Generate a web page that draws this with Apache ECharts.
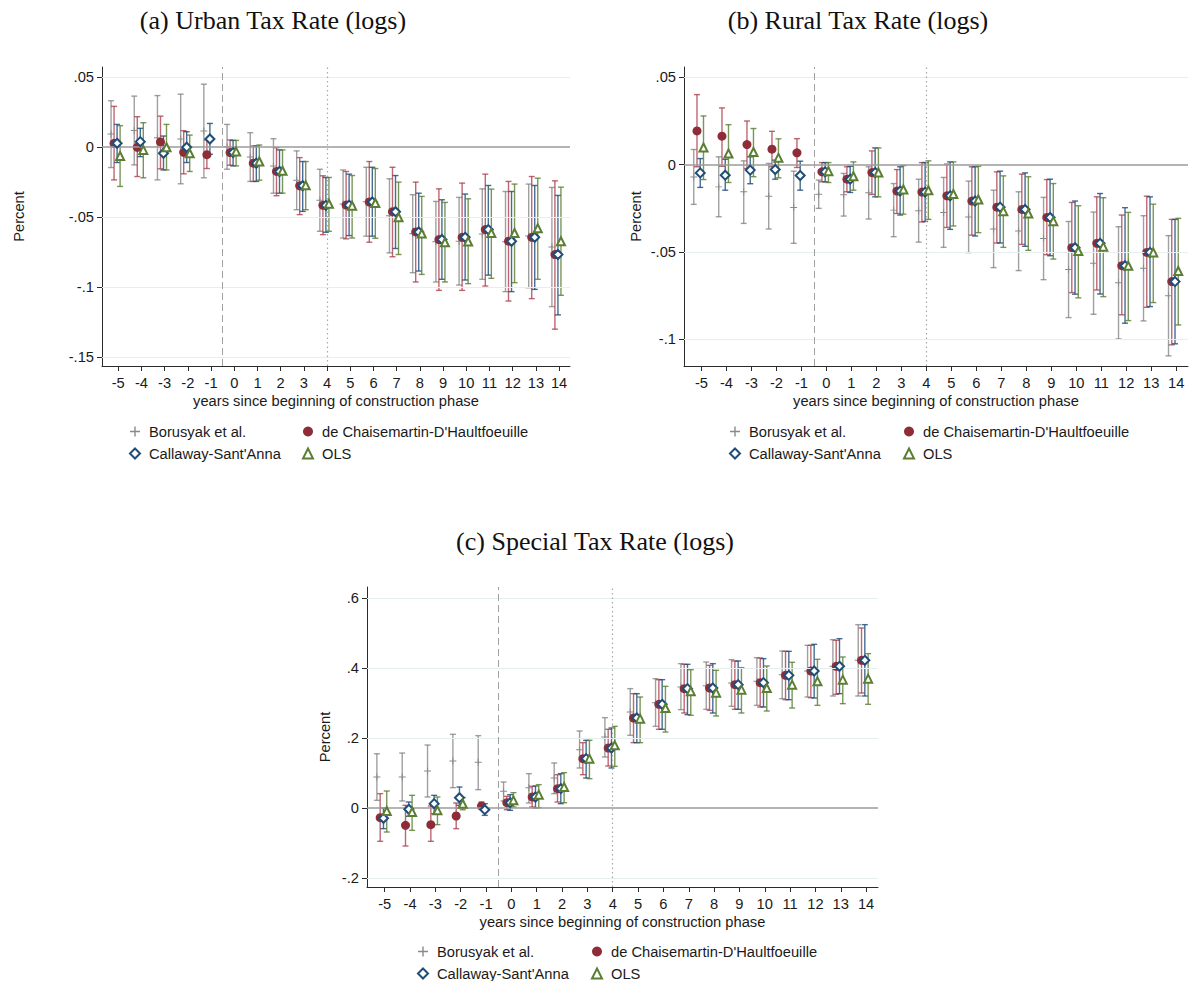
<!DOCTYPE html>
<html>
<head>
<meta charset="utf-8">
<script src="https://cdn.jsdelivr.net/npm/echarts@6/dist/echarts.min.js"></script>
<style>
  html, body { margin: 0; padding: 0; background: #ffffff; }
  #chart { width: 1191px; height: 981px; }
</style>
</head>
<body>
<div id="chart"></div>
<script>
// Event time relative to the start of the construction phase
const eventTimes = [-5, -4, -3, -2, -1, 0, 1, 2, 3, 4, 5, 6, 7, 8, 9, 10, 11, 12, 13, 14];

// Each entry: [estimate, lower CI, upper CI]; null where the estimator has no coefficient
const urbanBorusyak = [
  [0.0092, -0.0147, 0.0330], [0.0118, -0.0128, 0.0363], [0.0066, -0.0235, 0.0367], [0.0057, -0.0263, 0.0377],
  [0.0114, -0.0220, 0.0448], [0.0001, -0.0159, 0.0161], [-0.0072, -0.0246, 0.0102], [-0.0136, -0.0330, 0.0059],
  [-0.0238, -0.0448, -0.0028], [-0.0380, -0.0602, -0.0159], [-0.0407, -0.0650, -0.0164], [-0.0391, -0.0637, -0.0145],
  [-0.0491, -0.0756, -0.0227], [-0.0620, -0.0898, -0.0341], [-0.0676, -0.0964, -0.0389], [-0.0673, -0.0986, -0.0360],
  [-0.0622, -0.0945, -0.0299], [-0.0676, -0.1033, -0.0318], [-0.0635, -0.1005, -0.0265], [-0.0715, -0.1140, -0.0289]
];
const urbanDCDH = [
  [0.0026, -0.0235, 0.0290], [-0.0002, -0.0211, 0.0216], [0.0036, -0.0156, 0.0220], [-0.0038, -0.0192, 0.0116],
  [-0.0055, -0.0154, 0.0050], [-0.0040, -0.0130, 0.0050], [-0.0116, -0.0246, 0.0007], [-0.0175, -0.0348, -0.0005],
  [-0.0277, -0.0483, -0.0076], [-0.0417, -0.0626, -0.0206], [-0.0415, -0.0656, -0.0175], [-0.0393, -0.0680, -0.0104],
  [-0.0462, -0.0784, -0.0145], [-0.0607, -0.0964, -0.0251], [-0.0661, -0.1024, -0.0299], [-0.0645, -0.1024, -0.0258],
  [-0.0590, -0.0993, -0.0194], [-0.0673, -0.1100, -0.0246], [-0.0645, -0.1083, -0.0211], [-0.0768, -0.1301, -0.0242]
];
const urbanCS = [
  [0.0026, -0.0111, 0.0161], [0.0038, -0.0069, 0.0133], [-0.0045, -0.0164, 0.0078], [-0.0002, -0.0111, 0.0109],
  [0.0057, -0.0052, 0.0168], [-0.0040, -0.0135, 0.0047], [-0.0116, -0.0246, 0.0007], [-0.0175, -0.0330, -0.0021],
  [-0.0277, -0.0460, -0.0104], [-0.0417, -0.0609, -0.0218], [-0.0415, -0.0633, -0.0194], [-0.0393, -0.0637, -0.0145],
  [-0.0462, -0.0725, -0.0204], [-0.0607, -0.0886, -0.0330], [-0.0661, -0.0945, -0.0377], [-0.0645, -0.0950, -0.0336],
  [-0.0590, -0.0915, -0.0275], [-0.0673, -0.1033, -0.0318], [-0.0645, -0.1017, -0.0275], [-0.0768, -0.1199, -0.0346]
];
const urbanOLS = [
  [-0.0064, -0.0282, 0.0152], [-0.0021, -0.0220, 0.0173], [-0.0002, -0.0164, 0.0161], [-0.0045, -0.0175, 0.0085],
  null, [-0.0033, -0.0135, 0.0047], [-0.0104, -0.0237, 0.0014], [-0.0170, -0.0330, -0.0021],
  [-0.0273, -0.0448, -0.0104], [-0.0405, -0.0602, -0.0218], [-0.0420, -0.0650, -0.0204], [-0.0400, -0.0652, -0.0154],
  [-0.0502, -0.0768, -0.0251], [-0.0618, -0.0910, -0.0353], [-0.0680, -0.0964, -0.0396], [-0.0675, -0.0976, -0.0370],
  [-0.0614, -0.0938, -0.0301], [-0.0614, -0.0969, -0.0265], [-0.0580, -0.0945, -0.0223], [-0.0673, -0.1059, -0.0287]
];

const ruralBorusyak = [
  [-0.0071, -0.0228, 0.0086], [-0.0128, -0.0299, 0.0044], [-0.0156, -0.0337, 0.0021], [-0.0181, -0.0369, 0.0006],
  [-0.0246, -0.0451, -0.0038], [-0.0170, -0.0251, -0.0089], [-0.0173, -0.0295, -0.0051], [-0.0162, -0.0312, -0.0013],
  [-0.0261, -0.0413, -0.0109], [-0.0264, -0.0444, -0.0084], [-0.0274, -0.0474, -0.0074], [-0.0300, -0.0504, -0.0095],
  [-0.0369, -0.0590, -0.0147], [-0.0381, -0.0607, -0.0156], [-0.0424, -0.0659, -0.0188], [-0.0601, -0.0876, -0.0326],
  [-0.0565, -0.0857, -0.0272], [-0.0677, -0.0998, -0.0356], [-0.0594, -0.0895, -0.0293], [-0.0751, -0.1095, -0.0407]
];
const ruralDCDH = [
  [0.0192, -0.0013, 0.0400], [0.0162, -0.0010, 0.0324], [0.0114, -0.0023, 0.0249], [0.0088, -0.0013, 0.0190],
  [0.0067, -0.0017, 0.0148], [-0.0042, -0.0099, 0.0011], [-0.0084, -0.0156, -0.0013], [-0.0046, -0.0171, 0.0078],
  [-0.0152, -0.0280, -0.0029], [-0.0158, -0.0329, 0.0011], [-0.0179, -0.0360, 0.0002], [-0.0209, -0.0404, -0.0013],
  [-0.0244, -0.0449, -0.0042], [-0.0257, -0.0457, -0.0055], [-0.0303, -0.0516, -0.0086], [-0.0476, -0.0733, -0.0217],
  [-0.0451, -0.0718, -0.0185], [-0.0579, -0.0860, -0.0289], [-0.0503, -0.0817, -0.0181], [-0.0670, -0.1032, -0.0314]
];
const ruralCS = [
  [-0.0048, -0.0131, 0.0034], [-0.0061, -0.0147, 0.0030], [-0.0032, -0.0110, 0.0044], [-0.0029, -0.0084, 0.0025],
  [-0.0063, -0.0147, 0.0019], [-0.0042, -0.0099, 0.0011], [-0.0084, -0.0160, -0.0010], [-0.0046, -0.0185, 0.0095],
  [-0.0152, -0.0289, -0.0013], [-0.0158, -0.0326, 0.0011], [-0.0179, -0.0371, 0.0015], [-0.0209, -0.0409, -0.0013],
  [-0.0244, -0.0449, -0.0038], [-0.0257, -0.0468, -0.0048], [-0.0303, -0.0522, -0.0084], [-0.0476, -0.0742, -0.0209],
  [-0.0451, -0.0741, -0.0166], [-0.0579, -0.0908, -0.0247], [-0.0503, -0.0813, -0.0185], [-0.0670, -0.1026, -0.0314]
];
const ruralOLS = [
  [0.0097, -0.0086, 0.0278], [0.0063, -0.0103, 0.0228], [0.0072, -0.0070, 0.0206], [0.0038, -0.0076, 0.0147],
  null, [-0.0038, -0.0103, 0.0011], [-0.0067, -0.0147, 0.0015], [-0.0046, -0.0185, 0.0095],
  [-0.0143, -0.0284, -0.0006], [-0.0147, -0.0314, 0.0021], [-0.0169, -0.0352, 0.0015], [-0.0200, -0.0390, -0.0010],
  [-0.0267, -0.0474, -0.0065], [-0.0280, -0.0491, -0.0070], [-0.0324, -0.0541, -0.0109], [-0.0495, -0.0763, -0.0236],
  [-0.0470, -0.0756, -0.0190], [-0.0579, -0.0893, -0.0274], [-0.0503, -0.0790, -0.0227], [-0.0609, -0.0918, -0.0308]
];

const specialBorusyak = [
  [0.0886, 0.0219, 0.1550], [0.0886, 0.0200, 0.1570], [0.1057, 0.0314, 0.1800], [0.1343, 0.0581, 0.2105],
  [0.1305, 0.0524, 0.2067], [0.0476, 0.0200, 0.0743], [0.0581, 0.0143, 0.0981], [0.0857, 0.0410, 0.1286],
  [0.1667, 0.1143, 0.2200], [0.2029, 0.1457, 0.2581], [0.2743, 0.2076, 0.3410], [0.3010, 0.2333, 0.3695],
  [0.3457, 0.2810, 0.4124], [0.3495, 0.2819, 0.4171], [0.3571, 0.2905, 0.4238], [0.3619, 0.2933, 0.4295],
  [0.3810, 0.3124, 0.4486], [0.3914, 0.3171, 0.4648], [0.4048, 0.3200, 0.4810], [0.4219, 0.3200, 0.5238]
];
const specialDCDH = [
  [-0.0276, -0.0952, 0.0410], [-0.0495, -0.1086, 0.0076], [-0.0476, -0.0952, 0.0057], [-0.0229, -0.0590, 0.0143],
  [0.0057, -0.0038, 0.0171], [0.0152, -0.0048, 0.0333], [0.0314, 0.0029, 0.0619], [0.0552, 0.0171, 0.0952],
  [0.1410, 0.0952, 0.1867], [0.1714, 0.1200, 0.2248], [0.2571, 0.1867, 0.3267], [0.2962, 0.2248, 0.3667],
  [0.3410, 0.2714, 0.4105], [0.3429, 0.2790, 0.4076], [0.3524, 0.2819, 0.4200], [0.3581, 0.2886, 0.4286],
  [0.3790, 0.3095, 0.4476], [0.3914, 0.3152, 0.4648], [0.4048, 0.3248, 0.4790], [0.4219, 0.3286, 0.5143]
];
const specialCS = [
  [-0.0295, -0.0590, 0.0000], [-0.0038, -0.0238, 0.0171], [0.0124, -0.0162, 0.0362], [0.0295, 0.0076, 0.0600],
  [-0.0048, -0.0210, 0.0124], [0.0152, -0.0067, 0.0381], [0.0314, 0.0000, 0.0629], [0.0552, 0.0124, 0.0981],
  [0.1410, 0.0857, 0.1933], [0.1714, 0.1143, 0.2286], [0.2571, 0.1867, 0.3267], [0.2962, 0.2248, 0.3667],
  [0.3410, 0.2667, 0.4105], [0.3429, 0.2714, 0.4124], [0.3524, 0.2819, 0.4200], [0.3581, 0.2886, 0.4267],
  [0.3790, 0.3095, 0.4476], [0.3914, 0.3143, 0.4676], [0.4048, 0.3267, 0.4838], [0.4219, 0.3200, 0.5238]
];
const specialOLS = [
  [-0.0086, -0.0686, 0.0486], [-0.0114, -0.0638, 0.0362], [-0.0067, -0.0476, 0.0314], [0.0120, -0.0050, 0.0300],
  null, [0.0219, 0.0029, 0.0438], [0.0381, 0.0010, 0.0667], [0.0600, 0.0152, 0.1010],
  [0.1410, 0.0838, 0.1933], [0.1790, 0.1190, 0.2333], [0.2552, 0.1867, 0.3171], [0.2857, 0.2171, 0.3476],
  [0.3333, 0.2648, 0.3952], [0.3295, 0.2629, 0.3933], [0.3381, 0.2714, 0.4010], [0.3429, 0.2771, 0.4057],
  [0.3524, 0.2857, 0.4162], [0.3619, 0.2933, 0.4248], [0.3667, 0.2981, 0.4314], [0.3695, 0.2962, 0.4410]
];

// Labelled y ticks of each panel
const urbanTicks = [-0.15, -0.1, -0.05, 0, 0.05];
const ruralTicks = [-0.1, -0.05, 0, 0.05];
const specialTicks = [-0.2, 0, 0.2, 0.4, 0.6];

// Reference lines: last pre-period boundary and end of construction
const treatmentBoundary = -0.5;
const constructionEnd = 4;

const estimatorNames = ['Borusyak et al.', "de Chaisemartin-D'Haultfoeuille", "Callaway-Sant'Anna", 'OLS'];
const panelTitles = ['(a) Urban Tax Rate (logs)', '(b) Rural Tax Rate (logs)', '(c) Special Tax Rate (logs)'];
const xTitle = 'years since beginning of construction phase';
const yTitle = 'Percent';

// ---------- styling ----------
const SANS = "'Liberation Sans', Arial, sans-serif";
const SERIF = "'Liberation Serif', 'DejaVu Serif', serif";
const PLUS = 'path://M4.3,0H5.7V4.3H10V5.7H5.7V10H4.3V5.7H0V4.3H4.3Z';
const TEXT_SIZE = 14.7;

const estimatorStyle = [
  { shift: -0.31, bar: 'rgba(120,120,120,0.70)', color: '#8a8a8a', symbol: PLUS, size: 7, border: 0 },
  { shift: -0.18, bar: 'rgba(170,60,74,0.78)', color: '#8e2d38', symbol: 'circle', size: 9, border: 0 },
  { shift: -0.05, bar: 'rgba(28,76,122,0.82)', color: '#1f4d7a', symbol: 'emptyDiamond', size: 9, border: 1.2 },
  { shift: 0.08, bar: 'rgba(88,124,46,0.80)', color: '#5b7e33', symbol: 'emptyTriangle', size: 8, border: 1.2 }
];

const panels = [
  { data: [urbanBorusyak, urbanDCDH, urbanCS, urbanOLS], ticks: urbanTicks,
    grid: { left: 102, top: 67, width: 468, height: 299 }, yMin: -0.1564, yMax: 0.0571, nameGap: 76,
    title: [273, 20], legend: [129, 302, 424] },
  { data: [ruralBorusyak, ruralDCDH, ruralCS, ruralOLS], ticks: ruralTicks,
    grid: { left: 684, top: 67, width: 504, height: 299 }, yMin: -0.1153, yMax: 0.0558, nameGap: 41,
    title: [858, 20], legend: [729, 903, 424] },
  { data: [specialBorusyak, specialDCDH, specialCS, specialOLS], ticks: specialTicks,
    grid: { left: 367, top: 587, width: 511, height: 300 }, yMin: -0.2257, yMax: 0.6314, nameGap: 35,
    title: [595, 541], legend: [417, 591, 944] }
];

const X_MIN = -5.7, X_MAX = 14.47;

function tickText(v) {
  if (v === 0) return '0';
  return String(v).replace('0.', '.');
}

function makeBarRenderer(color) {
  return function (params, api) {
    const x = api.value(0);
    const lo = api.coord([x, api.value(1)]);
    const hi = api.coord([x, api.value(2)]);
    const cap = 3;
    const style = { stroke: color, lineWidth: 1.4, fill: null };
    return {
      type: 'group',
      children: [
        { type: 'line', shape: { x1: lo[0], y1: lo[1], x2: hi[0], y2: hi[1] }, style: style },
        { type: 'line', shape: { x1: lo[0] - cap, y1: lo[1], x2: lo[0] + cap, y2: lo[1] }, style: style },
        { type: 'line', shape: { x1: hi[0] - cap, y1: hi[1], x2: hi[0] + cap, y2: hi[1] }, style: style }
      ]
    };
  };
}

const grids = [], xAxes = [], yAxes = [], series = [], legends = [], graphics = [];

panels.forEach(function (p, i) {
  grids.push(Object.assign({ containLabel: false }, p.grid));

  xAxes.push({
    gridIndex: i, type: 'value', min: X_MIN, max: X_MAX,
    axisLine: { show: true, onZero: false, lineStyle: { color: '#2b2b2b', width: 1 } },
    axisTick: { show: true, customValues: eventTimes, length: 5, lineStyle: { color: '#2b2b2b' } },
    axisLabel: { show: true, customValues: eventTimes, margin: 9, fontSize: TEXT_SIZE, fontFamily: SANS, color: '#1a1a1a' },
    splitLine: { show: false },
    name: xTitle, nameLocation: 'middle', nameGap: 27,
    nameTextStyle: { fontSize: TEXT_SIZE, fontFamily: SANS, color: '#1a1a1a' }
  });

  yAxes.push({
    gridIndex: i, type: 'value', min: p.yMin, max: p.yMax,
    axisLine: { show: true, onZero: false, lineStyle: { color: '#2b2b2b', width: 1 } },
    axisTick: { show: true, customValues: p.ticks, length: 5, lineStyle: { color: '#2b2b2b' } },
    axisLabel: { show: true, customValues: p.ticks, margin: 8, fontSize: TEXT_SIZE, fontFamily: SANS, color: '#1a1a1a',
      formatter: tickText },
    splitLine: { show: false },
    name: yTitle, nameLocation: 'middle', nameGap: p.nameGap, nameRotate: 90,
    nameTextStyle: { fontSize: TEXT_SIZE, fontFamily: SANS, color: '#1a1a1a' }
  });

  // grid lines, zero line and the two vertical reference lines
  const refLines = p.ticks.filter(function (t) { return t !== 0; }).map(function (t) {
    return { yAxis: t, lineStyle: { color: '#e6eef0', width: 1.2, type: 'solid' } };
  });
  refLines.push({ yAxis: 0, lineStyle: { color: '#9b9b9b', width: 1.6, type: 'solid' } });
  refLines.push({ xAxis: treatmentBoundary, lineStyle: { color: '#a0a0a0', width: 1, type: [7, 4] } });
  refLines.push({ xAxis: constructionEnd, lineStyle: { color: '#a8a8a8', width: 1.2, type: [1.5, 3] } });
  series.push({
    type: 'scatter', name: 'ref' + i, xAxisIndex: i, yAxisIndex: i, data: [], z: 1, silent: true,
    markLine: { symbol: 'none', silent: true, animation: false, label: { show: false }, data: refLines }
  });

  // confidence intervals
  p.data.forEach(function (rows, k) {
    const st = estimatorStyle[k];
    const barData = [];
    rows.forEach(function (r, j) {
      if (r) barData.push([eventTimes[j] + st.shift, r[1], r[2]]);
    });
    series.push({
      type: 'custom', name: estimatorNames[k] + ' CI ' + i, xAxisIndex: i, yAxisIndex: i, z: 2,
      renderItem: makeBarRenderer(st.bar), data: barData, silent: true
    });
  });

  // point estimates
  p.data.forEach(function (rows, k) {
    const st = estimatorStyle[k];
    const pts = [];
    rows.forEach(function (r, j) {
      if (r) pts.push([eventTimes[j] + st.shift, r[0]]);
    });
    series.push({
      type: 'scatter', name: estimatorNames[k], xAxisIndex: i, yAxisIndex: i, z: 3 + k,
      symbol: st.symbol, symbolSize: st.size, symbolKeepAspect: true,
      itemStyle: { color: st.color, borderColor: st.color, borderWidth: st.border, opacity: 1 },
      data: pts, silent: true
    });
  });

  // two-column legend under each panel
  const legendBase = {
    orient: 'vertical', itemWidth: 10, itemHeight: 10, itemGap: 7, selectedMode: false,
    textStyle: { fontSize: TEXT_SIZE, fontFamily: SANS, color: '#1a1a1a', lineHeight: 14, padding: [0, 0, 0, 4] },
    padding: 0
  };
  legends.push(Object.assign({}, legendBase, { left: p.legend[0], top: p.legend[2], data: [estimatorNames[0], estimatorNames[2]] }));
  legends.push(Object.assign({}, legendBase, { left: p.legend[1], top: p.legend[2], data: [estimatorNames[1], estimatorNames[3]] }));

  graphics.push({
    type: 'text', x: p.title[0], y: p.title[1], silent: true,
    style: { text: panelTitles[i], fontSize: 26, fontFamily: SERIF, fill: '#111', textAlign: 'center', textVerticalAlign: 'middle' }
  });
});

const chart = echarts.init(document.getElementById('chart'), null, { renderer: 'svg' });
chart.setOption({
  animation: false,
  backgroundColor: '#ffffff',
  grid: grids,
  xAxis: xAxes,
  yAxis: yAxes,
  legend: legends,
  graphic: graphics,
  series: series
});
</script>
</body>
</html>
